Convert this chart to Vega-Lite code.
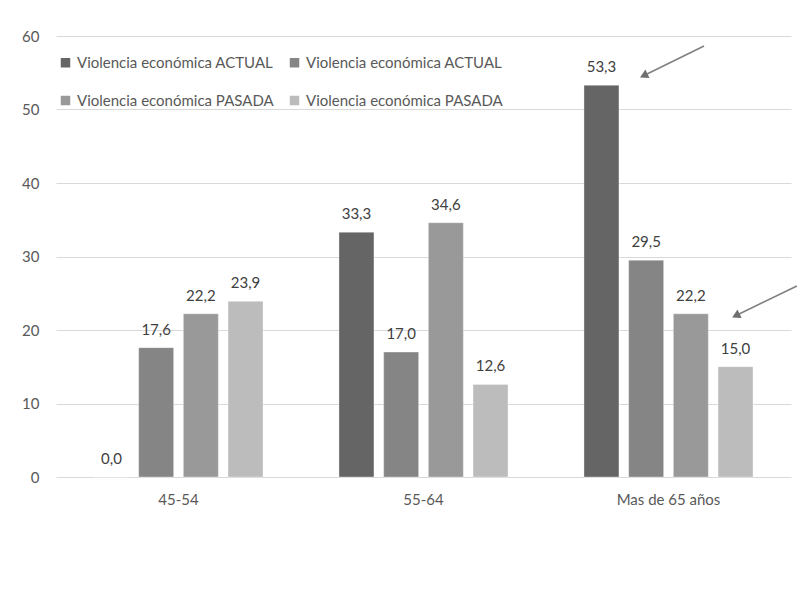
{
  "$schema": "https://vega.github.io/schema/vega-lite/v6.json",
  "width": 735,
  "height": 441,
  "autosize": {"type": "none"},
  "padding": {"left": 56, "top": 36, "right": 14, "bottom": 120},
  "background": "#ffffff",
  "config": {
    "font": "Lato",
    "view": {"stroke": null},
    "locale": {"number": {"decimal": ",", "thousands": ".", "grouping": [3], "currency": ["", " €"]}},
    "axis": {"labelFont": "Lato", "labelFontSize": 15, "labelColor": "#595959", "ticks": false, "domain": false, "title": null}
  },
  "datasets": {
    "bars": [
      {"grupo": "45-54", "serie": "A1", "valor": 0.0},
      {"grupo": "45-54", "serie": "A2", "valor": 17.6},
      {"grupo": "45-54", "serie": "P1", "valor": 22.2},
      {"grupo": "45-54", "serie": "P2", "valor": 23.9},
      {"grupo": "55-64", "serie": "A1", "valor": 33.3},
      {"grupo": "55-64", "serie": "A2", "valor": 17.0},
      {"grupo": "55-64", "serie": "P1", "valor": 34.6},
      {"grupo": "55-64", "serie": "P2", "valor": 12.6},
      {"grupo": "Mas de 65 años", "serie": "A1", "valor": 53.3},
      {"grupo": "Mas de 65 años", "serie": "A2", "valor": 29.5},
      {"grupo": "Mas de 65 años", "serie": "P1", "valor": 22.2},
      {"grupo": "Mas de 65 años", "serie": "P2", "valor": 15.0}
    ],
    "arrows": [
      {"x1": 2.645, "y1": 58.64, "x2": 2.404, "y2": 54.69},
      {"x1": 3.024, "y1": 25.99, "x2": 2.780, "y2": 22.04}
    ]
  },
  "layer": [
    {
      "data": {"name": "bars"},
      "layer": [
        {
          "mark": {"type": "bar", "strokeWidth": 1, "strokeOpacity": 0.35, "stroke": "#ffffff"},
          "encoding": {
            "x": {"field": "grupo", "type": "nominal", "sort": null,
                  "scale": {"paddingInner": 0.31, "paddingOuter": 0.155},
                  "axis": {"labelAngle": 0, "labelPadding": 15, "grid": false}},
            "xOffset": {"field": "serie", "type": "nominal", "scale": {"paddingInner": 0.217, "paddingOuter": 0}},
            "y": {"field": "valor", "type": "quantitative",
                  "scale": {"domain": [0, 60], "nice": false},
                  "axis": {"values": [0, 10, 20, 30, 40, 50, 60], "grid": true, "gridColor": "#d9d9d9", "gridWidth": 1, "labelPadding": 17}},
            "color": {"field": "serie", "type": "nominal",
                      "scale": {"domain": ["A1", "A2", "P1", "P2"], "range": ["#656565", "#858585", "#999999", "#bcbcbc"]},
                      "legend": {
                        "orient": "none", "legendX": 2, "legendY": 19, "columns": 2, "direction": "horizontal",
                        "title": null, "symbolType": "square", "symbolSize": 90,
                        "symbolStrokeWidth": 0, "labelFontSize": 15, "labelColor": "#595959",
                        "labelFont": "Lato", "labelOffset": 4, "columnPadding": 13, "rowPadding": 22,
                        "labelLimit": 400,
                        "labelExpr": "test(/^A/, datum.label) ? 'Violencia económica ACTUAL' : 'Violencia económica PASADA'"
                      }}
          }
        },
        {
          "mark": {"type": "text", "baseline": "alphabetic", "dy": -13, "fontSize": 15, "color": "#404040", "font": "Lato"},
          "encoding": {
            "x": {"field": "grupo", "type": "nominal", "sort": null},
            "xOffset": {"field": "serie", "type": "nominal"},
            "y": {"field": "valor", "type": "quantitative"},
            "text": {"field": "valor", "type": "quantitative", "format": ".1f"}
          }
        }
      ]
    },
    {
      "data": {"name": "arrows"},
      "layer": [
        {
          "mark": {"type": "rule", "color": "#7f7f7f", "strokeWidth": 1.5},
          "encoding": {
            "x": {"field": "x1", "type": "quantitative", "scale": {"domain": [0, 3], "nice": false, "zero": false}, "axis": null},
            "x2": {"field": "x2"},
            "y": {"field": "y1", "type": "quantitative"},
            "y2": {"field": "y2"}
          }
        },
        {
          "mark": {"type": "point", "shape": "triangle", "filled": true, "size": 90, "angle": 244, "color": "#6f6f6f", "opacity": 1},
          "encoding": {
            "x": {"field": "x2", "type": "quantitative", "axis": null},
            "y": {"field": "y2", "type": "quantitative"}
          }
        }
      ]
    }
  ],
  "resolve": {"scale": {"x": "independent", "xOffset": "independent"}}
}
